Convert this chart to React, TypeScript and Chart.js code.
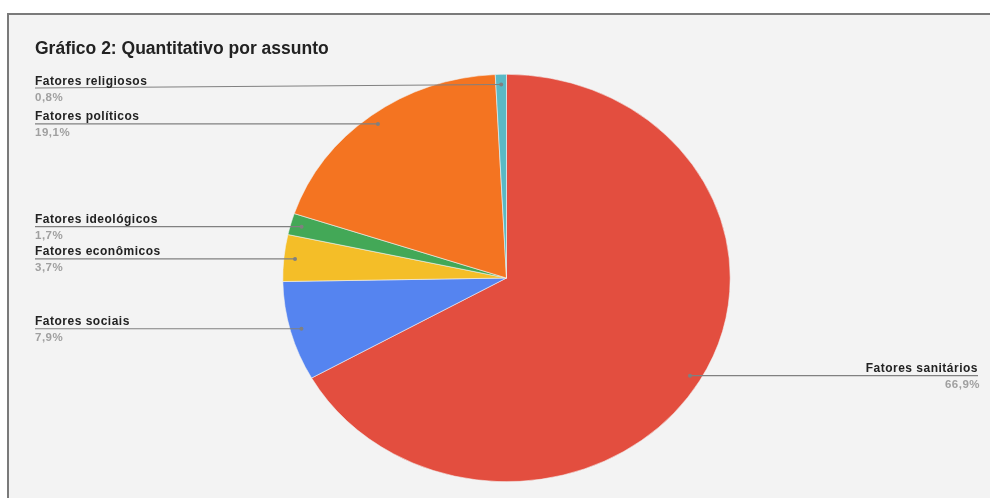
import React, { useEffect, useRef } from "react";
import { Chart, registerables } from "chart.js";

Chart.register(...registerables);

const TITLE = "Gráfico 2: Quantitativo por assunto";
const categories = [
  "Fatores sanitários",
  "Fatores sociais",
  "Fatores econômicos",
  "Fatores ideológicos",
  "Fatores políticos",
  "Fatores religiosos",
];
const values = [66.9, 7.9, 3.7, 1.7, 19.1, 0.8];
const percentLabels = ["66,9%", "7,9%", "3,7%", "1,7%", "19,1%", "0,8%"];
const colors = ["#e34e3f", "#5584f0", "#f4be28", "#43a857", "#f47421", "#5ab9c5"];

const ELLIPSE_Y = 204 / 224;
const FONT = '"Liberation Sans", Arial, sans-serif';

const ellipsePlugin = {
  id: "ellipse",
  beforeDatasetsDraw(chart: any) {
    const meta = chart.getDatasetMeta(0);
    const arc = meta.data[0];
    const ctx = chart.ctx;
    ctx.save();
    ctx.translate(arc.x, arc.y);
    ctx.scale(1, ELLIPSE_Y);
    ctx.translate(-arc.x, -arc.y);
  },
  afterDatasetsDraw(chart: any) {
    chart.ctx.restore();
  },
  afterDraw(chart: any) {
    const ctx = chart.ctx as CanvasRenderingContext2D;
    const meta = chart.getDatasetMeta(0);
    ctx.save();
    // title
    ctx.fillStyle = "#222222";
    ctx.font = `bold 17.5px ${FONT}`;
    ctx.textAlign = "left";
    ctx.textBaseline = "alphabetic";
    ctx.fillText(TITLE, 35, 54);

    const items = meta.data.map((arc: any, i: number) => {
      const mid = (arc.startAngle + arc.endAngle) / 2;
      const r = arc.outerRadius * 0.95;
      const dx = arc.x + Math.cos(mid) * r;
      const dy = arc.y + Math.sin(mid) * r * ELLIPSE_Y;
      return { i, dx, dy, left: Math.cos(mid) < 0, ly: dy };
    });
    const lefts = items.filter((d: any) => d.left).sort((a: any, b: any) => a.dy - b.dy);
    const rights = items.filter((d: any) => !d.left).sort((a: any, b: any) => a.dy - b.dy);
    const place = (arr: any[]) => {
      let prev = -Infinity;
      arr.forEach((d) => {
        d.ly = Math.max(d.dy, 88, prev + 32);
        prev = d.ly;
      });
    };
    place(lefts);
    place(rights);

    (ctx as any).letterSpacing = "0.5px";
    items.forEach((d: any) => {
      const xText = d.left ? 35 : 978;
      ctx.strokeStyle = "#808080";
      ctx.lineWidth = 1.2;
      ctx.beginPath();
      ctx.moveTo(xText, d.ly);
      ctx.lineTo(d.dx, d.dy);
      ctx.stroke();
      ctx.fillStyle = "#808080";
      ctx.beginPath();
      ctx.arc(d.dx, d.dy, 2, 0, Math.PI * 2);
      ctx.fill();

      ctx.textAlign = d.left ? "left" : "right";
      ctx.fillStyle = "#222222";
      ctx.font = `bold 12px ${FONT}`;
      ctx.fillText(categories[d.i], xText, d.ly - 3.5);
      ctx.fillStyle = "#a0a0a0";
      ctx.font = `bold 11.5px ${FONT}`;
      ctx.fillText(percentLabels[d.i], d.left ? xText : xText + 2, d.ly + 12.5);
    });
    ctx.restore();
  },
};

export default function App() {
  const ref = useRef<HTMLCanvasElement | null>(null);
  useEffect(() => {
    if (!ref.current) return;
    const chart = new Chart(ref.current, {
      type: "pie",
      data: {
        labels: categories,
        datasets: [
          {
            data: values,
            backgroundColor: colors,
            borderColor: "#f3f3f3",
            borderWidth: 0.6,
          },
        ],
      },
      options: {
        responsive: false,
        animation: false,
        layout: { padding: { left: 282, right: 259, top: 54, bottom: 18 } },
        plugins: {
          legend: { display: false },
          tooltip: { enabled: false },
          title: { display: false },
        },
      },
      plugins: [ellipsePlugin],
    });
    return () => chart.destroy();
  }, []);
  return (
    <div
      style={{
        position: "absolute",
        left: 0,
        top: 0,
        width: 990,
        height: 498,
        overflow: "hidden",
        background: "#ffffff",
      }}
    >
      <div
        style={{
          position: "absolute",
          left: 7,
          top: 13,
          width: 1000,
          height: 500,
          background: "#f3f3f3",
          borderLeft: "2px solid #7a7a7a",
          borderTop: "2px solid #7a7a7a",
        }}
      />
      <canvas
        ref={ref}
        width={990}
        height={520}
        style={{ position: "absolute", left: 0, top: 0 }}
      />
    </div>
  );
}
